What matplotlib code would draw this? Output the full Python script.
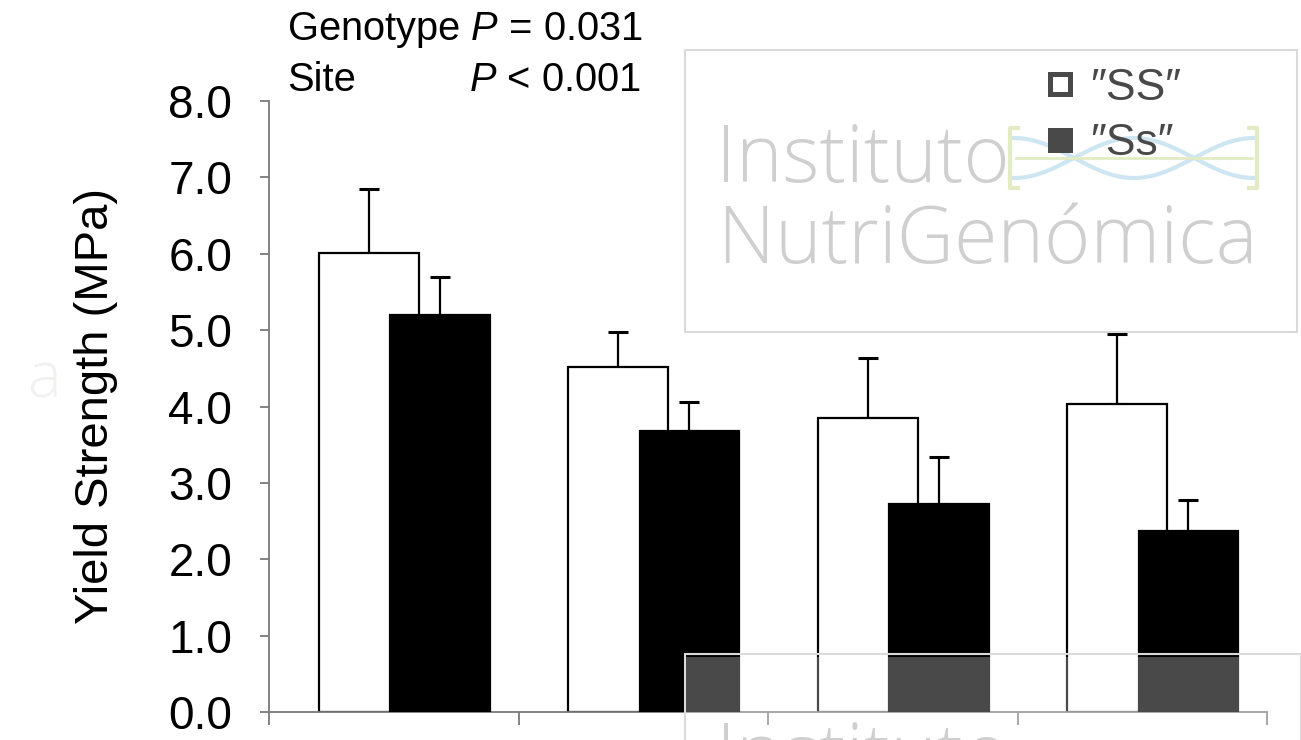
import numpy as np
import matplotlib
matplotlib.use("Agg")
import matplotlib.pyplot as plt
from matplotlib.lines import Line2D
from matplotlib.patches import Rectangle

plt.rcParams['font.family'] = ['Liberation Sans', 'DejaVu Sans']
plt.rcParams['mathtext.fontset'] = 'custom'
plt.rcParams['mathtext.rm'] = 'Liberation Sans'
plt.rcParams['mathtext.it'] = 'Liberation Sans:italic'

# Data: yield strength (MPa) per site for the two genotypes, mean and upper SE
sites = ["Site 1", "Site 2", "Site 3", "Site 4"]
ss_mean = [6.01, 4.52, 3.85, 4.03]
ss_err = [0.84, 0.45, 0.79, 0.92]
ss2_mean = [5.20, 3.68, 2.72, 2.37]
ss2_err = [0.49, 0.38, 0.62, 0.41]
yticks = [0.0, 1.0, 2.0, 3.0, 4.0, 5.0, 6.0, 7.0, 8.0]
legend_labels = ['\u2033SS\u2033', '\u2033Ss\u2033']

W, H = 1301, 740
fig = plt.figure(figsize=(W / 100, H / 100), dpi=100)
ax = fig.add_axes([269 / W, 1 - 712 / H, (1267 - 269) / W, (712 - 101) / H])

x = np.arange(len(sites))
bw = 0.40
axis_grey = '#7a7a7a'

ax.bar(x + 0.40, ss_mean, width=bw, color='white', edgecolor='black',
       linewidth=1.6, zorder=2)
ax.errorbar(x + 0.40, ss_mean, yerr=[np.zeros(len(sites)), ss_err], fmt='none',
            ecolor='black', elinewidth=1.6, capsize=7, capthick=2.2, zorder=1)
ax.bar(x + 0.685, ss2_mean, width=bw, color='black', edgecolor='black',
       linewidth=1.6, zorder=3)
ax.errorbar(x + 0.685, ss2_mean, yerr=[np.zeros(len(sites)), ss2_err], fmt='none',
            ecolor='black', elinewidth=1.6, capsize=7, capthick=2.2, zorder=3)

ax.set_xlim(0, len(sites))
ax.set_ylim(0, 8)
ax.set_yticks(yticks)
ax.set_yticklabels([f"{v:.1f}" for v in yticks], fontsize=33)
ax.set_xticks(np.arange(len(sites) + 1))
ax.set_xticklabels([])
for side in ('top', 'right'):
    ax.spines[side].set_visible(False)
for side in ('left', 'bottom'):
    ax.spines[side].set_color(axis_grey)
    ax.spines[side].set_linewidth(1.3)
ax.tick_params(axis='y', direction='out', length=6.5, width=1.3, color=axis_grey, pad=20)
ax.tick_params(axis='x', direction='out', length=9, width=1.3, color=axis_grey)
ax.set_ylabel("Yield Strength (MPa)", fontsize=34, labelpad=36)

# Statistics annotation
fig.text(287 / W, 1 - 30 / H, "Genotype $P$ = 0.031", fontsize=28.7, va='center', ha='left')
fig.text(287 / W, 1 - 80 / H, "Site", fontsize=28.7, va='center', ha='left')
fig.text(641 / W, 1 - 80 / H, "$P$ < 0.001", fontsize=28.7, va='center', ha='right')

# Watermark logo (helix between brackets), drawn beneath the legend
t = np.linspace(0, 1, 200)
hx = (1014 + t * 240) / W
phase = 2 * np.pi * (t * 1.0 + 0.25)
for sgn in (1, -1):
    ax.add_line(Line2D(hx, 1 - (158 + sgn * 20 * np.sin(phase)) / H, transform=fig.transFigure,
                       color='#bbdcee', lw=3, zorder=4, clip_on=False))
ax.add_line(Line2D([1016 / W, 1252 / W], [1 - 158 / H] * 2, transform=fig.transFigure,
                   color='#d7e3ac', lw=2, zorder=4, clip_on=False))
for xb, d in ((1010, 1), (1257, -1)):
    ax.add_line(Line2D([(xb + 8 * d) / W, xb / W, xb / W, (xb + 8 * d) / W],
                       [1 - 128 / H, 1 - 128 / H, 1 - 188 / H, 1 - 188 / H],
                       transform=fig.transFigure, color='#d7e3ac', lw=3, zorder=4,
                       clip_on=False))

# Legend
handles = [Line2D([], [], linestyle='none', marker='s', markersize=15,
                  markerfacecolor='white', markeredgecolor='black', markeredgewidth=3.6),
           Line2D([], [], linestyle='none', marker='s', markersize=15,
                  markerfacecolor='black', markeredgecolor='black', markeredgewidth=3.6)]
leg = ax.legend(handles, legend_labels, loc='upper left', bbox_to_anchor=(1048 / W, 1 - 68 / H),
                bbox_transform=fig.transFigure, frameon=False, fontsize=32,
                handlelength=0.55, handletextpad=0.4, labelspacing=0.32, borderpad=0,
                borderaxespad=0)
leg.set_zorder(6)

# Watermark overlays
wm_text = '#cfcfcf'
wm_font = ['Open Sans', 'DejaVu Sans']
top_box = Rectangle((685 / W, 1 - 332 / H), (1297 - 685) / W, (332 - 50) / H,
                    transform=fig.transFigure, facecolor='white', alpha=0.29,
                    edgecolor='none', zorder=5)
top_edge = Rectangle((685 / W, 1 - 332 / H), (1297 - 685) / W, (332 - 50) / H,
                     transform=fig.transFigure, facecolor='none',
                     edgecolor='#dadada', linewidth=1.5, zorder=6)
fig.patches.extend([top_box, top_edge])
fig.text(716 / W, 1 - 182 / H, "Instituto", fontsize=57, color=wm_text, weight='light',
         family=wm_font, va='baseline', ha='left', zorder=7)
fig.text(718 / W, 1 - 263 / H, "NutriGenómica", fontsize=57, color=wm_text, weight='light',
         family=wm_font, va='baseline', ha='left', zorder=7)

bottom_box = Rectangle((685 / W, 0), (W - 685) / W, (740 - 657) / H,
                       transform=fig.transFigure, facecolor='white', alpha=0.29,
                       edgecolor='none', zorder=5)
bottom_edge = Rectangle((685 / W, -0.01), (W - 685) / W, (750 - 657) / H,
                        transform=fig.transFigure, facecolor='none',
                        edgecolor='#dadada', linewidth=1.5, zorder=6)
fig.patches.extend([bottom_box, bottom_edge])
fig.text(716 / W, -40 / H, "Instituto", fontsize=57, color=wm_text, weight='light',
         family=wm_font, va='baseline', ha='left', zorder=7)

# faint logo fragment at the left edge
fig.text(28 / W, 1 - 398 / H, "a", fontsize=46, color='#f0f2f0', weight='light',
         family=wm_font, va='baseline', ha='left', zorder=0)

fig.savefig("out.png", dpi=100)
